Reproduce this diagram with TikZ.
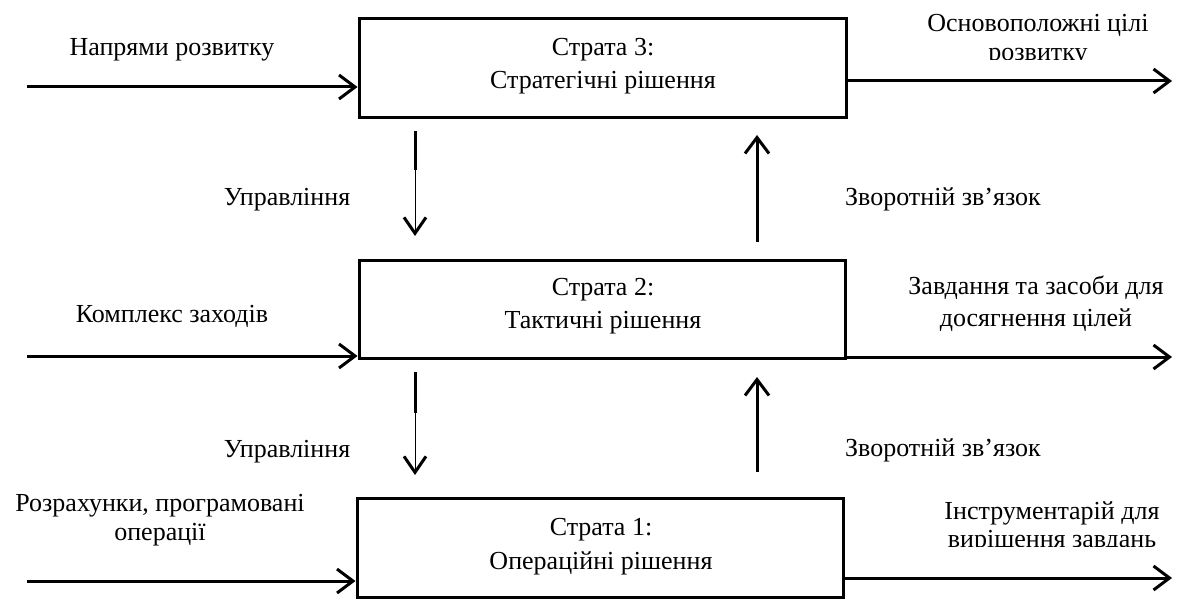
\documentclass[tikz,border=0pt]{standalone}
\usepackage{fontspec}
\setmainfont{Liberation Serif}
\usetikzlibrary{arrows.meta}
\begin{document}
\begin{tikzpicture}[x=1pt,y=-1pt,
  box/.style={draw, line width=3pt, minimum width=#1, minimum height=99pt, inner sep=0pt},
  lbl/.style={font=\fontsize{26}{24}\selectfont, inner sep=0pt, anchor=base},
  arr/.style={line width=3pt, -{Straight Barb[length=16pt,width=24pt,line width=3pt]}},
  thinarr/.style={line width=1pt, -{Straight Barb[length=16pt,width=22pt,line width=3pt]}},
  thick3/.style={line width=3pt}]
\useasboundingbox (0,0) rectangle (1189,599);
% boxes
\node[box=487pt] (b3) at (602.5,68.5) {};
\node[box=486pt, minimum height=98pt] (b2) at (602,309) {};
\node[box=486pt] (b1) at (600,547.5) {};
% box texts
\node[lbl] (t3a) at (603,56) {Страта 3:};
\node[lbl] (t3b) at (603,89) {Стратегічні рішення};
\node[lbl] (t2a) at (603,295) {Страта 2:};
\node[lbl] (t2b) at (603,328) {Тактичні рішення};
\node[lbl] (t1a) at (601,535) {Страта 1:};
\node[lbl] (t1b) at (601,569) {Операційні рішення};
% input labels
\node[lbl] (i3) at (172,56) {Напрями розвитку};
\node[lbl] (i2) at (172,322) {Комплекс заходів};
\node[lbl] (i1a) at (160,511) {Розрахунки, програмовані};
\node[lbl] (i1b) at (160,540) {операції};
% output labels
\node[lbl] (o3a) at (1038,32) {Основоположні цілі};
\begin{scope}
\clip (880,0) rectangle (1189,59.5);
\node[lbl] (o3b) at (1038,61) {розвитку};
\end{scope}
\node[lbl] (o2a) at (1036,294) {Завдання та засоби для};
\node[lbl] (o2b) at (1036,326) {досягнення цілей};
\node[lbl] (o1a) at (1052,519) {Інструментарій для};
\begin{scope}
\clip (880,490) rectangle (1189,546);
\node[lbl] (o1b) at (1052,547) {вирішення завдань};
\end{scope}
% control / feedback labels
\node[lbl] (c3) at (287,205) {Управління};
\node[lbl] (c2) at (287,457) {Управління};
\node[lbl] (f3) at (943,205) {Зворотній зв’язок};
\node[lbl] (f2) at (943,456) {Зворотній зв’язок};
% coordinates
\coordinate (in3) at (27,87);
\coordinate (in2) at (27,356);
\coordinate (in1) at (27,581);
\coordinate (out3) at (1172,81);
\coordinate (out2) at (1172,357);
\coordinate (out1) at (1172,578);
\coordinate (d3a) at (415,131);
\coordinate (d3b) at (415,170);
\coordinate (d3c) at (415,236);
\coordinate (d2a) at (415,372);
\coordinate (d2b) at (415,413);
\coordinate (d2c) at (415,475);
\coordinate (u3a) at (757,242);
\coordinate (u3b) at (757,135);
\coordinate (u2a) at (757,472);
\coordinate (u2b) at (757,377);
% input arrows
\draw[arr] (in3) -- (in3 -| b3.west);
\draw[arr] (in2) -- (in2 -| b2.west);
\draw[arr] (in1) -- (in1 -| b1.west);
% output arrows
\draw[arr] (out3 -| b3.east) -- (out3);
\draw[arr] (out2 -| b2.east) -- (out2);
\draw[arr] (out1 -| b1.east) -- (out1);
% control arrows
\draw[thick3] (d3a) -- (d3b);
\draw[thinarr] (d3b) -- (d3c);
\draw[thick3] (d2a) -- (d2b);
\draw[thinarr] (d2b) -- (d2c);
% feedback arrows
\draw[arr] (u3a) -- (u3b);
\draw[arr] (u2a) -- (u2b);
\end{tikzpicture}
\end{document}
